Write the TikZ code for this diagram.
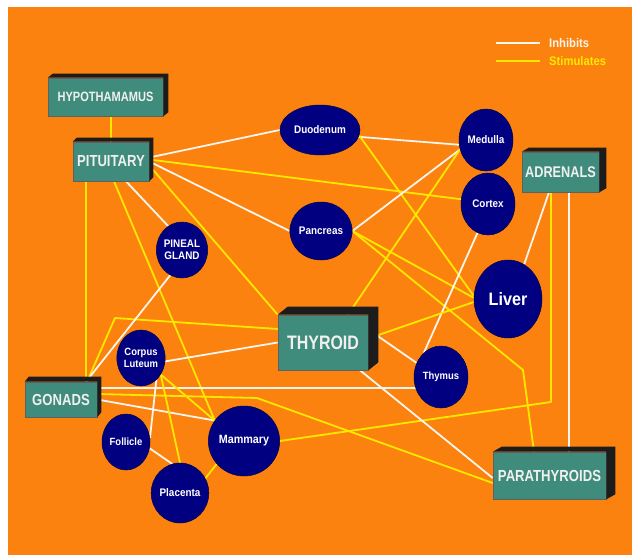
\documentclass[tikz,border=0pt]{standalone}
\usepackage{fontspec}
\usetikzlibrary{shapes.geometric,calc}
\newfontfamily\glandfont{Liberation Sans}[FakeStretch=0.82]
\newfontfamily\organfont{Liberation Sans}[FakeStretch=0.9]
\definecolor{bgorange}{RGB}{251,130,15}
\definecolor{glandteal}{RGB}{64,140,124}
\definecolor{glandside}{RGB}{28,28,28}
\definecolor{organblue}{RGB}{0,0,128}
\definecolor{stimyellow}{RGB}{255,232,0}
\definecolor{inhibwhite}{RGB}{250,246,238}
\pgfdeclarelayer{back}
\pgfdeclarelayer{wires}
\pgfsetlayers{back,wires,main}

\tikzset{
  gland/.style={draw=glandside!70, line width=0.6pt, fill=glandteal, text=white!94!black,
    inner sep=0pt, font=\glandfont\bfseries\fontsize{#1}{#1}\selectfont},
  gland/.default=16,
  organ/.style={ellipse, draw=organblue!60!black, line width=0.5pt, fill=organblue, text=white,
    inner sep=0pt, align=center, font=\organfont\bfseries\fontsize{#1}{12.5}\selectfont},
  organ/.default=11,
  legendtext/.style={anchor=west, inner sep=0pt, font=\organfont\bfseries\fontsize{12.5}{12.5}\selectfont},
  stim/.style={draw=stimyellow, line width=1.8pt, line join=round},
  inhib/.style={draw=inhibwhite, line width=1.8pt, line join=round},
}

\begin{document}
\begin{tikzpicture}[x=1pt, y=-1pt]
  \useasboundingbox (0,0) rectangle (632,555);
  \begin{pgfonlayer}{back}
    \fill[white] (0,0) rectangle (632,555);
    \fill[bgorange] (8,7) rectangle (632,555);
  \end{pgfonlayer}

  % glands
  \node[gland=13.5, minimum width=115pt, minimum height=38pt] (hyp) at (105.5,97) {HYPOTHAMAMUS};
  \node[gland, minimum width=76pt, minimum height=39pt] (pit) at (111,161.5) {PITUITARY};
  \node[gland=15.5, minimum width=77pt, minimum height=40pt] (adr) at (560.5,172) {ADRENALS};
  \node[gland=19.5, minimum width=90pt, minimum height=55pt] (thy) at (323,342.5) {THYROID};
  \node[gland, minimum width=72pt, minimum height=35pt] (gon) at (61,399.5) {GONADS};
  \node[gland, minimum width=113pt, minimum height=47pt] (par) at (549.5,475.5) {PARATHYROIDS};

  \foreach \g/\dx/\dy in {hyp/5/-4, pit/4/-4, adr/7/-4, thy/10/-8, gon/4/-5, par/9/-5}
    \fill[glandside] (\g.north west) -- ++(\dx,\dy) -- ([shift={(\dx,\dy)}]\g.north east)
      -- ([shift={(\dx,\dy)}]\g.south east) -- (\g.south east) -- (\g.north east) -- cycle;

  % organs
  \node[organ, minimum width=80pt, minimum height=50pt] (duo) at (320,130) {Duodenum};
  \node[organ, minimum width=54pt, minimum height=62pt] (med) at (486,140) {Medulla};
  \node[organ, minimum width=54pt, minimum height=62pt] (cor) at (488,204) {Cortex};
  \node[organ, minimum width=50pt, minimum height=58pt] (pan) at (321,231) {Pancreas};
  \node[organ, minimum width=50pt, minimum height=56pt] (pin) at (182,250) {PINEAL\\GLAND};
  \node[organ=18, minimum width=68pt, minimum height=78pt] (liv) at (508,299) {Liver};
  \node[organ=10.5, minimum width=48pt, minimum height=56pt] (cl) at (141,358) {Corpus\\Luteum};
  \node[organ=10.5, minimum width=54pt, minimum height=62pt] (thm) at (441,377) {Thymus};
  \node[organ=10.5, minimum width=48pt, minimum height=56pt] (fol) at (126,442) {Follicle};
  \node[organ=12, minimum width=60pt, minimum height=70pt] (mam) at (244,441) {Mammary};
  \node[organ, minimum width=50pt, minimum height=60pt] (pla) at (180,493) {Placenta};

  % legend
  \node[legendtext, text=inhibwhite] (inh) at (549,43) {Inhibits};
  \node[legendtext, text=stimyellow] (sti) at (549,61) {Stimulates};
  \draw[inhib] ([xshift=-9pt]inh.west) -- ([xshift=-53pt]inh.west);
  \draw[stim] ([xshift=-9pt]sti.west) -- ([xshift=-53pt]sti.west);

  \coordinate (kgon) at (115,318);
  \coordinate (kpar) at (257,398);
  \coordinate (kpan) at (523,370);
  \coordinate (kadr) at (551,402);

  \begin{pgfonlayer}{wires}
    \draw[stim] (pit.north) -- (pit.north |- hyp.south);
    \draw[inhib] ([yshift=4pt]pit.east) -- (duo.west);
    \draw[stim] ([yshift=2pt]pit.east) -- (cor.170);
    \draw[inhib] (pit.east) -- (pan.west);
    \draw[stim] ([yshift=-4pt]pit.east) -- (thy.north west);
    \draw[inhib] ([xshift=15pt]pit.south) -- (pin.120);
    \draw[stim] ([xshift=3pt]pit.south) -- (mam.145);
    \draw[stim] ([xshift=-25pt]pit.south) -- ([xshift=-25pt]pit.south |- gon.north);

    \draw[inhib] (duo.-10) -- (med.190);
    \draw[stim] (duo.-8) -- (liv.175);
    \draw[inhib] (pan.east) -- (med.200);
    \draw[stim] (pan.east) -- (liv.178);
    \draw[stim] (pan.east) -- (kpan) -- ([xshift=-15.5pt]par.north);
    \draw[stim] (med.200) -- ([xshift=25pt]thy.north);
    \draw[inhib] (cor.-110) -- (thm.125);

    \draw[inhib] ([xshift=-11.5pt]adr.south) -- (liv.65);
    \draw[stim] ([xshift=-9.5pt]adr.south) -- (kadr) -- (mam.east);
    \draw[inhib] ([xshift=8.5pt]adr.south) -- ([xshift=8.5pt]adr.south |- par.north);

    \draw[stim] ([yshift=4pt]thy.east) -- (liv.185);
    \draw[inhib] ([yshift=13pt]thy.east) -- (thm.150);
    \draw[inhib] ([xshift=37pt]thy.south) -- ([yshift=-2.5pt]par.west);
    \draw[inhib] (cl.-8) -- (thy.west);

    \draw[stim] ([xshift=26pt]gon.north) -- (kgon) -- ([yshift=13.5pt]thy.west);
    \draw[inhib] (pin.-115) -- ([xshift=25pt]gon.north);
    \draw[inhib] ([yshift=11.5pt]gon.east) -- ([yshift=11.5pt]gon.east -| thm.center);
    \draw[stim] ([yshift=5.5pt]gon.east) -- (kpar) -- ([yshift=-7.5pt]par.west);
    \draw[inhib] (gon.east) -- (mam.145);

    \draw[stim] (cl.-40) -- (mam.145);
    \draw[stim] (cl.-40) -- (pla.north);
    \draw[inhib] (cl.-55) -- (fol.10);
    \draw[inhib] (fol.-15) -- (pla.105);
    \draw[stim] (mam.-140) -- (pla.30);
  \end{pgfonlayer}
\end{tikzpicture}
\end{document}
